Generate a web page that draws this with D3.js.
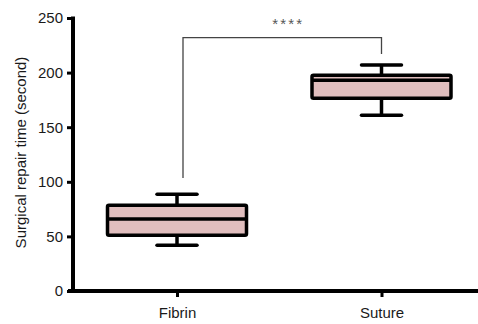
<!DOCTYPE html>
<html>
<head>
<meta charset="utf-8">
<script src="https://cdn.jsdelivr.net/npm/d3@7"></script>
<style>
  body { margin: 0; background: #fff; }
  svg { display: block; font-family: "Liberation Sans", Arial, sans-serif; }
</style>
</head>
<body>
<svg width="478" height="324"></svg>
<script>
// data
var categories = ["Fibrin", "Suture"];
var whiskerMin = [42, 161];
var q1 = [51, 176.5];
var median = [66, 193];
var q3 = [78.5, 197.5];
var whiskerMax = [88.5, 207];
var yTicks = [0, 50, 100, 150, 200, 250];
var sigLabel = "****";
var bracketTop = 232;
var bracketLegEnds = [103.5, 217];

var svg = d3.select("svg"),
    margin = {top: 18, right: 0, bottom: 33, left: 73},
    width = +svg.attr("width") - margin.left - margin.right,
    height = +svg.attr("height") - margin.top - margin.bottom;

var x = d3.scalePoint().domain(categories).range([104, 308.5]),
    y = d3.scaleLinear().domain([0, 250]).range([height, 0]);

var boxW = 139, capW = 40;

var g = svg.append("g")
    .attr("transform", "translate(" + margin.left + "," + margin.top + ")");

// y axis
var yAxis = g.append("g")
    .call(d3.axisLeft(y).tickValues(yTicks).tickSize(6).tickPadding(4));
yAxis.select(".domain").attr("stroke", "#000").attr("stroke-width", 4)
    .attr("d", "M0," + (height + 2) + "V" + (-1.5));
yAxis.selectAll(".tick line").attr("stroke", "#000").attr("stroke-width", 3);
yAxis.selectAll(".tick text").attr("fill", "#1a1a1a").attr("font-size", 15)
    .attr("font-family", "Liberation Sans, Arial, sans-serif");

// x axis
var xAxis = g.append("g")
    .attr("transform", "translate(0," + height + ")")
    .call(d3.axisBottom(x).tickSize(6).tickPadding(10));
xAxis.select(".domain").attr("stroke", "#000").attr("stroke-width", 4)
    .attr("d", "M-5,0H" + (width + 5));
xAxis.selectAll(".tick line").attr("stroke", "#000").attr("stroke-width", 3);
xAxis.selectAll(".tick text").attr("fill", "#1a1a1a").attr("font-size", 15)
    .attr("font-family", "Liberation Sans, Arial, sans-serif");

// y label
svg.append("text")
    .attr("transform", "translate(26," + (margin.top + height / 2 - 2) + ") rotate(-90)")
    .attr("text-anchor", "middle")
    .attr("fill", "#1a1a1a")
    .attr("font-size", 15)
    .text("Surgical repair time (second)");

// boxes
var box = g.selectAll(".box")
    .data(categories)
    .enter().append("g")
    .attr("class", "box");

box.append("line")
    .attr("x1", function(d) { return x(d); })
    .attr("x2", function(d) { return x(d); })
    .attr("y1", function(d, i) { return y(whiskerMax[i]); })
    .attr("y2", function(d, i) { return y(whiskerMin[i]); })
    .attr("stroke", "#000").attr("stroke-width", 3.5);

box.append("line")
    .attr("x1", function(d) { return x(d) - capW / 2; })
    .attr("x2", function(d) { return x(d) + capW / 2; })
    .attr("y1", function(d, i) { return y(whiskerMax[i]); })
    .attr("y2", function(d, i) { return y(whiskerMax[i]); })
    .attr("stroke", "#000").attr("stroke-width", 3.5).attr("stroke-linecap", "round");

box.append("line")
    .attr("x1", function(d) { return x(d) - capW / 2; })
    .attr("x2", function(d) { return x(d) + capW / 2; })
    .attr("y1", function(d, i) { return y(whiskerMin[i]); })
    .attr("y2", function(d, i) { return y(whiskerMin[i]); })
    .attr("stroke", "#000").attr("stroke-width", 3.5).attr("stroke-linecap", "round");

box.append("rect")
    .attr("x", function(d) { return x(d) - boxW / 2; })
    .attr("y", function(d, i) { return y(q3[i]); })
    .attr("width", boxW)
    .attr("height", function(d, i) { return y(q1[i]) - y(q3[i]); })
    .attr("rx", 1.5)
    .attr("fill", "#e0bebe")
    .attr("stroke", "#000").attr("stroke-width", 3.5);

box.append("line")
    .attr("x1", function(d) { return x(d) - boxW / 2; })
    .attr("x2", function(d) { return x(d) + boxW / 2; })
    .attr("y1", function(d, i) { return y(median[i]); })
    .attr("y2", function(d, i) { return y(median[i]); })
    .attr("stroke", "#000").attr("stroke-width", 3.5);

// significance bracket
var bx1 = x(categories[0]) + 6, bx2 = x(categories[1]);
g.append("path")
    .attr("d", "M" + bx1 + "," + y(bracketLegEnds[0]) +
        "V" + y(bracketTop) + "H" + bx2 + "V" + y(bracketLegEnds[1]))
    .attr("fill", "none")
    .attr("stroke", "#444")
    .attr("stroke-width", 1.3);

g.append("text")
    .attr("x", (bx1 + bx2) / 2 + 6)
    .attr("y", y(bracketTop) - 8.5)
    .attr("text-anchor", "middle")
    .attr("fill", "#555")
    .attr("font-size", 15)
    .attr("letter-spacing", 2.2)
    .text(sigLabel);
</script>
</body>
</html>
